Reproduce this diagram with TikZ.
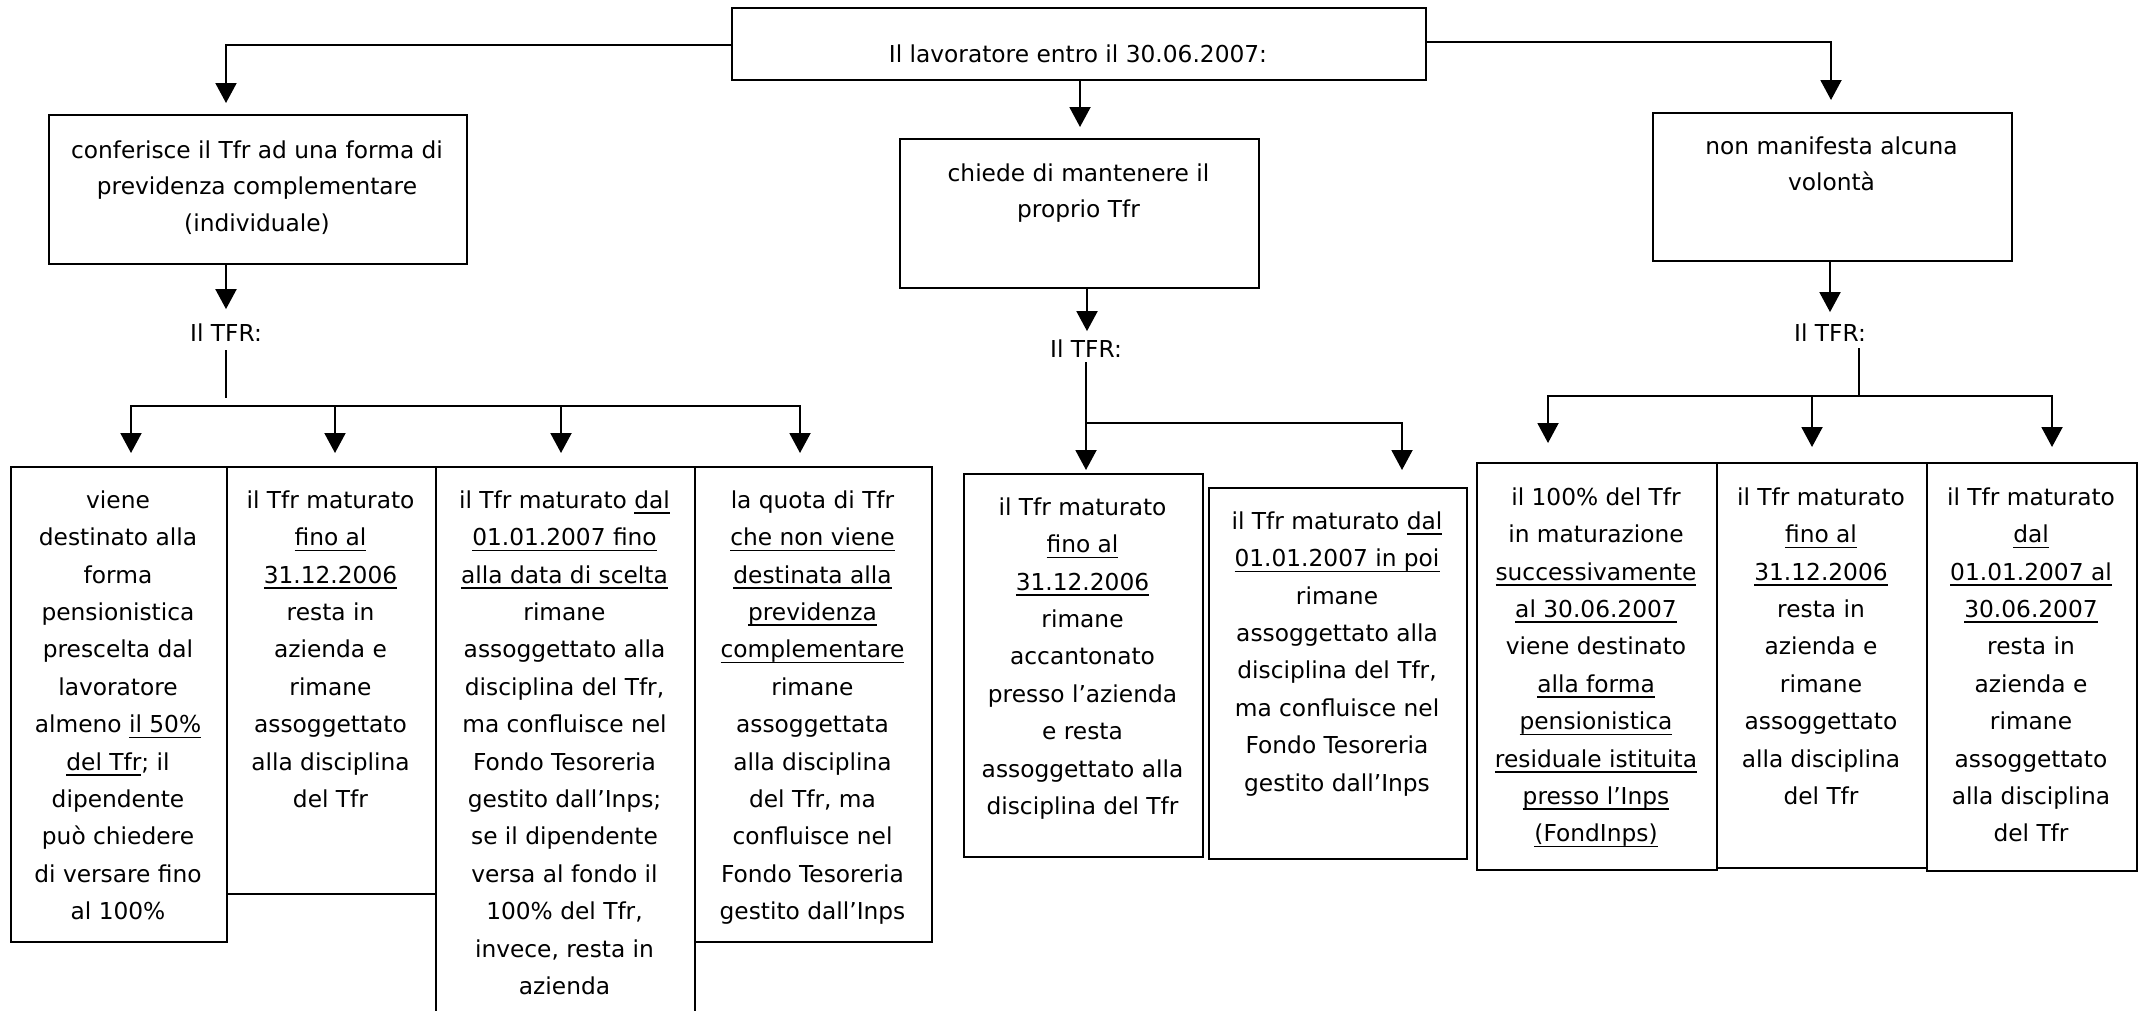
\documentclass[tikz,border=0pt]{standalone}
\usepackage{fontspec}
\setmainfont{DejaVu Sans}
\usetikzlibrary{arrows.meta,calc}
\newsavebox\ulbx
\newcommand\ulx[1]{\sbox\ulbx{#1}\rlap{\rule[-5.6pt]{\wd\ulbx}{1.6pt}}\usebox\ulbx}
\newcommand\fl{\rule{0pt}{20pt}}
\newcommand\tfont{\fontsize{23.3pt}{37.4pt}\selectfont}
\newcommand\hfont{\fontsize{23.3pt}{36.6pt}\selectfont}
\tikzset{
  box/.style={draw, line width=2.3pt, inner sep=0pt, anchor=north west},
  txt/.style={inner sep=0pt, align=center, anchor=north, font=\tfont},
  htxt/.style={inner sep=0pt, align=center, anchor=north, font=\hfont},
  lab/.style={inner sep=0pt, anchor=base, font=\tfont},
  conn/.style={line width=2pt},
  arr/.style={conn, -{Triangle[length=20pt,width=21pt]}},
  darr/.style={conn, {Triangle[length=20pt,width=21pt]}-{Triangle[length=20pt,width=21pt]}}
}
\begin{document}
\begin{tikzpicture}[x=1pt,y=-1pt]
\useasboundingbox (0,0) rectangle (2143,1010);
\clip (0,0) rectangle (2143,1010);
\fill[white] (0,0) rectangle (2143,1010);

% top box
\node[box, minimum width=694pt, minimum height=72pt] (T) at (731,7) {};
\node[lab] (Tt) at (1078,62) {Il lavoratore entro il 30.06.2007:};

% second row
\node[box, minimum width=418pt, minimum height=149pt] (L1) at (48,114) {};
\node[htxt] (L1t) at (257,138) {\fl conferisce il Tfr ad una forma di\\previdenza complementare\\(individuale)};
\node[box, minimum width=359pt, minimum height=149pt] (M) at (899,138) {};
\node[htxt] (Mt) at (1078.5,161) {\fl chiede di mantenere il\\proprio Tfr};
\node[box, minimum width=359pt, minimum height=148pt] (R) at (1652,112) {};
\node[htxt] (Rt) at (1831.5,134) {\fl non manifesta alcuna\\volontà};

% labels
\node[lab] (LT) at (226,341) {Il TFR:};
\node[lab] (MT) at (1086,357) {Il TFR:};
\node[lab] (RT) at (1830,341.5) {Il TFR:};

% left group boxes
\node[box, minimum width=216pt, minimum height=475pt] (A) at (10,466) {};
\node[txt] (At) at (118,488) {\fl viene\\destinato alla\\forma\\pensionistica\\prescelta dal\\lavoratore\\almeno \ulx{il 50\%}\\\ulx{del Tfr}; il\\dipendente\\può chiedere\\di versare fino\\al 100\%};
\node[box, minimum width=209pt, minimum height=427pt] (B) at (226,466) {};
\node[txt] (Bt) at (330.5,488) {\fl il Tfr maturato\\\ulx{fino al}\\\ulx{31.12.2006}\\resta in\\azienda e\\rimane\\assoggettato\\alla disciplina\\del Tfr};
\node[box, minimum width=259pt, minimum height=564pt] (C) at (435,466) {};
\node[txt] (Ct) at (564.5,488) {\fl il Tfr maturato \ulx{dal}\\\ulx{01.01.2007 fino}\\\ulx{alla data di scelta}\\rimane\\assoggettato alla\\disciplina del Tfr,\\ma confluisce nel\\Fondo Tesoreria\\gestito dall’Inps;\\se il dipendente\\versa al fondo il\\100\% del Tfr,\\invece, resta in\\azienda};
\node[box, minimum width=237pt, minimum height=475pt] (D) at (694,466) {};
\node[txt] (Dt) at (812.5,488) {\fl la quota di Tfr\\\ulx{che non viene}\\\ulx{destinata alla}\\\ulx{previdenza}\\\ulx{complementare}\\rimane\\assoggettata\\alla disciplina\\del Tfr, ma\\confluisce nel\\Fondo Tesoreria\\gestito dall’Inps};

% middle group boxes
\node[box, minimum width=239pt, minimum height=383pt] (M1) at (963,473) {};
\node[txt] (M1t) at (1082.5,495) {\fl il Tfr maturato\\\ulx{fino al}\\\ulx{31.12.2006}\\rimane\\accantonato\\presso l’azienda\\e resta\\assoggettato alla\\disciplina del Tfr};
\node[box, minimum width=258pt, minimum height=371pt] (M2) at (1208,487) {};
\node[txt] (M2t) at (1337,509) {\fl il Tfr maturato \ulx{dal}\\\ulx{01.01.2007 in poi}\\rimane\\assoggettato alla\\disciplina del Tfr,\\ma confluisce nel\\Fondo Tesoreria\\gestito dall’Inps};

% right group boxes
\node[box, minimum width=240pt, minimum height=407pt] (R1) at (1476,462) {};
\node[txt] (R1t) at (1596,485) {\fl il 100\% del Tfr\\in maturazione\\\ulx{successivamente}\\\ulx{al 30.06.2007}\\viene destinato\\\ulx{alla forma}\\\ulx{pensionistica}\\\ulx{residuale istituita}\\\ulx{presso l’Inps}\\\ulx{(FondInps)}};
\node[box, minimum width=210pt, minimum height=405pt] (R2) at (1716,462) {};
\node[txt] (R2t) at (1821,485) {\fl il Tfr maturato\\\ulx{fino al}\\\ulx{31.12.2006}\\resta in\\azienda e\\rimane\\assoggettato\\alla disciplina\\del Tfr};
\node[box, minimum width=210pt, minimum height=408pt] (R3) at (1926,462) {};
\node[txt] (R3t) at (2031,485) {\fl il Tfr maturato\\\ulx{dal}\\\ulx{01.01.2007 al}\\\ulx{30.06.2007}\\resta in\\azienda e\\rimane\\assoggettato\\alla disciplina\\del Tfr};

% connectors from the top box
\coordinate (jL) at (226,45);
\coordinate (jM) at (1080,0);
\coordinate (jR) at (1831,42);
\draw[arr, shorten >=11pt] (T.west |- jL) -- (jL) -- (jL |- L1.north);
\draw[arr, shorten >=11pt] (jM |- T.south) -- (jM |- M.north);
\draw[arr, shorten >=12pt] (T.east |- jR) -- (jR) -- (jR |- R.north);

% left group
\draw[arr, shorten >=14pt] (jL |- L1.south) -- (jL |- LT.north);
\coordinate (bL) at (226,406);
\coordinate (bL1) at (131,406);
\coordinate (bL2) at (335,406);
\coordinate (bL3) at (561,406);
\coordinate (bL4) at (800,406);
\draw[conn, shorten <=9pt, shorten >=8pt] (LT.south) -- (bL);
\draw[darr, shorten <=13pt, shorten >=13pt] (bL1 |- A.north) -- (bL1) -- (bL4) -- (bL4 |- D.north);
\draw[arr, shorten >=13pt] (bL2) -- (bL2 |- B.north);
\draw[arr, shorten >=13pt] (bL3) -- (bL3 |- C.north);

% middle group
\coordinate (jM2) at (1087,0);
\coordinate (bM1) at (1086,423);
\coordinate (bM2) at (1402,423);
\draw[arr, shorten >=8pt] (jM2 |- M.south) -- (jM2 |- MT.north);
\draw[conn, shorten <=5pt] (MT.south) -- (bM1);
\draw[darr, shorten <=3pt, shorten >=17pt] (bM1 |- M1.north) -- (bM1) -- (bM2) -- (bM2 |- M2.north);

% right group
\coordinate (jR2) at (1830,0);
\coordinate (vR) at (1859,396);
\coordinate (bR1) at (1548,396);
\coordinate (bR2) at (1812,396);
\coordinate (bR3) at (2052,396);
\draw[arr, shorten >=11.5pt] (jR2 |- R.south) -- (jR2 |- RT.north);
\draw[conn, shorten <=6.5pt] (RT.south -| vR) -- (vR);
\draw[darr, shorten <=19pt, shorten >=15pt] (bR1 |- R1.north) -- (bR1) -- (bR3) -- (bR3 |- R3.north);
\draw[arr, shorten >=15pt] (bR2) -- (bR2 |- R2.north);
\end{tikzpicture}
\end{document}
